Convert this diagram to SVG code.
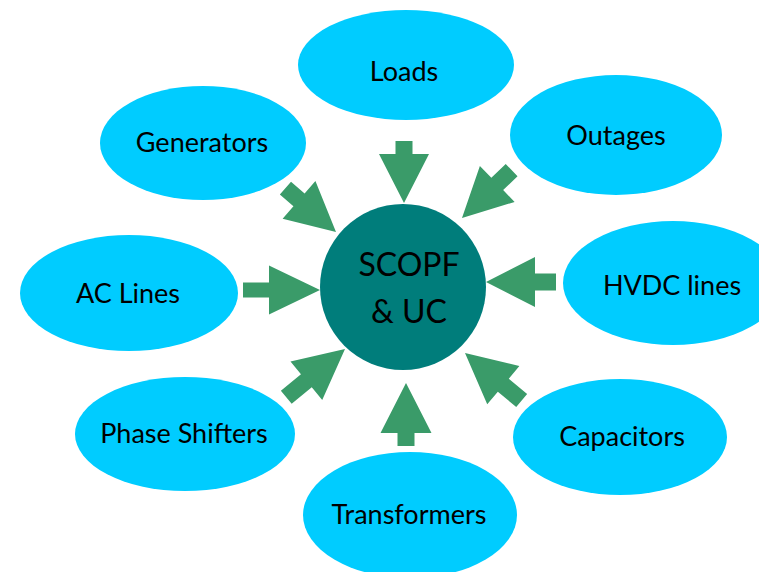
<svg xmlns="http://www.w3.org/2000/svg" width="759" height="572" viewBox="0 0 759 572">
  <style>
    .node ellipse { fill: #00CCFF; }
    .hub circle { fill: #007D7B; }
    .label { font-family: Lato, "Open Sans", "Liberation Sans", sans-serif; font-size: 27px; fill: #000; text-anchor: middle; }
    .hub-label { font-family: Lato, "Open Sans", "Liberation Sans", sans-serif; font-size: 32px; fill: #000; text-anchor: middle; }
    .arrow { fill: #3A9B69; }
  </style>
  <rect width="759" height="572" fill="#FFFFFF"/>

  <g id="node-loads" class="node">
    <ellipse cx="406" cy="65" rx="108" ry="55"/>
    <text class="label" x="404" y="81">Loads</text>
  </g>
  <g id="node-generators" class="node">
    <ellipse cx="203" cy="143" rx="103" ry="57"/>
    <text class="label" x="202" y="152">Generators</text>
  </g>
  <g id="node-outages" class="node">
    <ellipse cx="616" cy="135" rx="106" ry="60"/>
    <text class="label" x="616" y="145">Outages</text>
  </g>
  <g id="node-ac-lines" class="node">
    <ellipse cx="129" cy="293" rx="109" ry="58"/>
    <text class="label" x="128" y="303">AC Lines</text>
  </g>
  <g id="node-hvdc-lines" class="node">
    <ellipse cx="673" cy="283" rx="110" ry="62"/>
    <text class="label" x="672" y="295">HVDC lines</text>
  </g>
  <g id="node-phase-shifters" class="node">
    <ellipse cx="185" cy="434" rx="110" ry="57"/>
    <text class="label" x="184" y="443">Phase Shifters</text>
  </g>
  <g id="node-capacitors" class="node">
    <ellipse cx="620" cy="437" rx="107" ry="58"/>
    <text class="label" x="622" y="446">Capacitors</text>
  </g>
  <g id="node-transformers" class="node">
    <ellipse cx="410" cy="515" rx="107" ry="63"/>
    <text class="label" x="409" y="524">Transformers</text>
  </g>

  <g id="node-scopf-uc" class="hub">
    <circle cx="403" cy="287" r="83"/>
    <text class="hub-label" x="409" y="276">SCOPF</text>
    <text class="hub-label" x="409" y="323">&amp; UC</text>
  </g>

  <!-- block arrows: tip at local origin, pointing along +x -->
  <g id="connectors" class="arrow">
    <polygon transform="translate(404,203) rotate(90)" points="0,0 -49,-25 -49,-8.5 -62,-8.5 -62,8.5 -49,8.5 -49,25"/>
    <polygon transform="translate(336,232) rotate(41)" points="0,0 -49,-25 -49,-8.5 -67,-8.5 -67,8.5 -49,8.5 -49,25"/>
    <polygon transform="translate(462,218) rotate(136)" points="0,0 -49,-25 -49,-8.5 -69,-8.5 -69,8.5 -49,8.5 -49,25"/>
    <polygon transform="translate(320,290)" points="0,0 -51,-24.5 -51,-7.5 -77,-7.5 -77,7.5 -51,7.5 -51,24.5"/>
    <polygon transform="translate(486,282) rotate(180)" points="0,0 -49,-25 -49,-8.5 -70,-8.5 -70,8.5 -49,8.5 -49,25"/>
    <polygon transform="translate(345,349) rotate(-39.4)" points="0,0 -50,-25 -50,-8.5 -76,-8.5 -76,8.5 -50,8.5 -50,25"/>
    <polygon transform="translate(465,353) rotate(-140)" points="0,0 -50,-25 -50,-8.5 -74,-8.5 -74,8.5 -50,8.5 -50,25"/>
    <polygon transform="translate(406,383) rotate(-90)" points="0,0 -50,-25.5 -50,-8.5 -63,-8.5 -63,8.5 -50,8.5 -50,25.5"/>
  </g>
</svg>
